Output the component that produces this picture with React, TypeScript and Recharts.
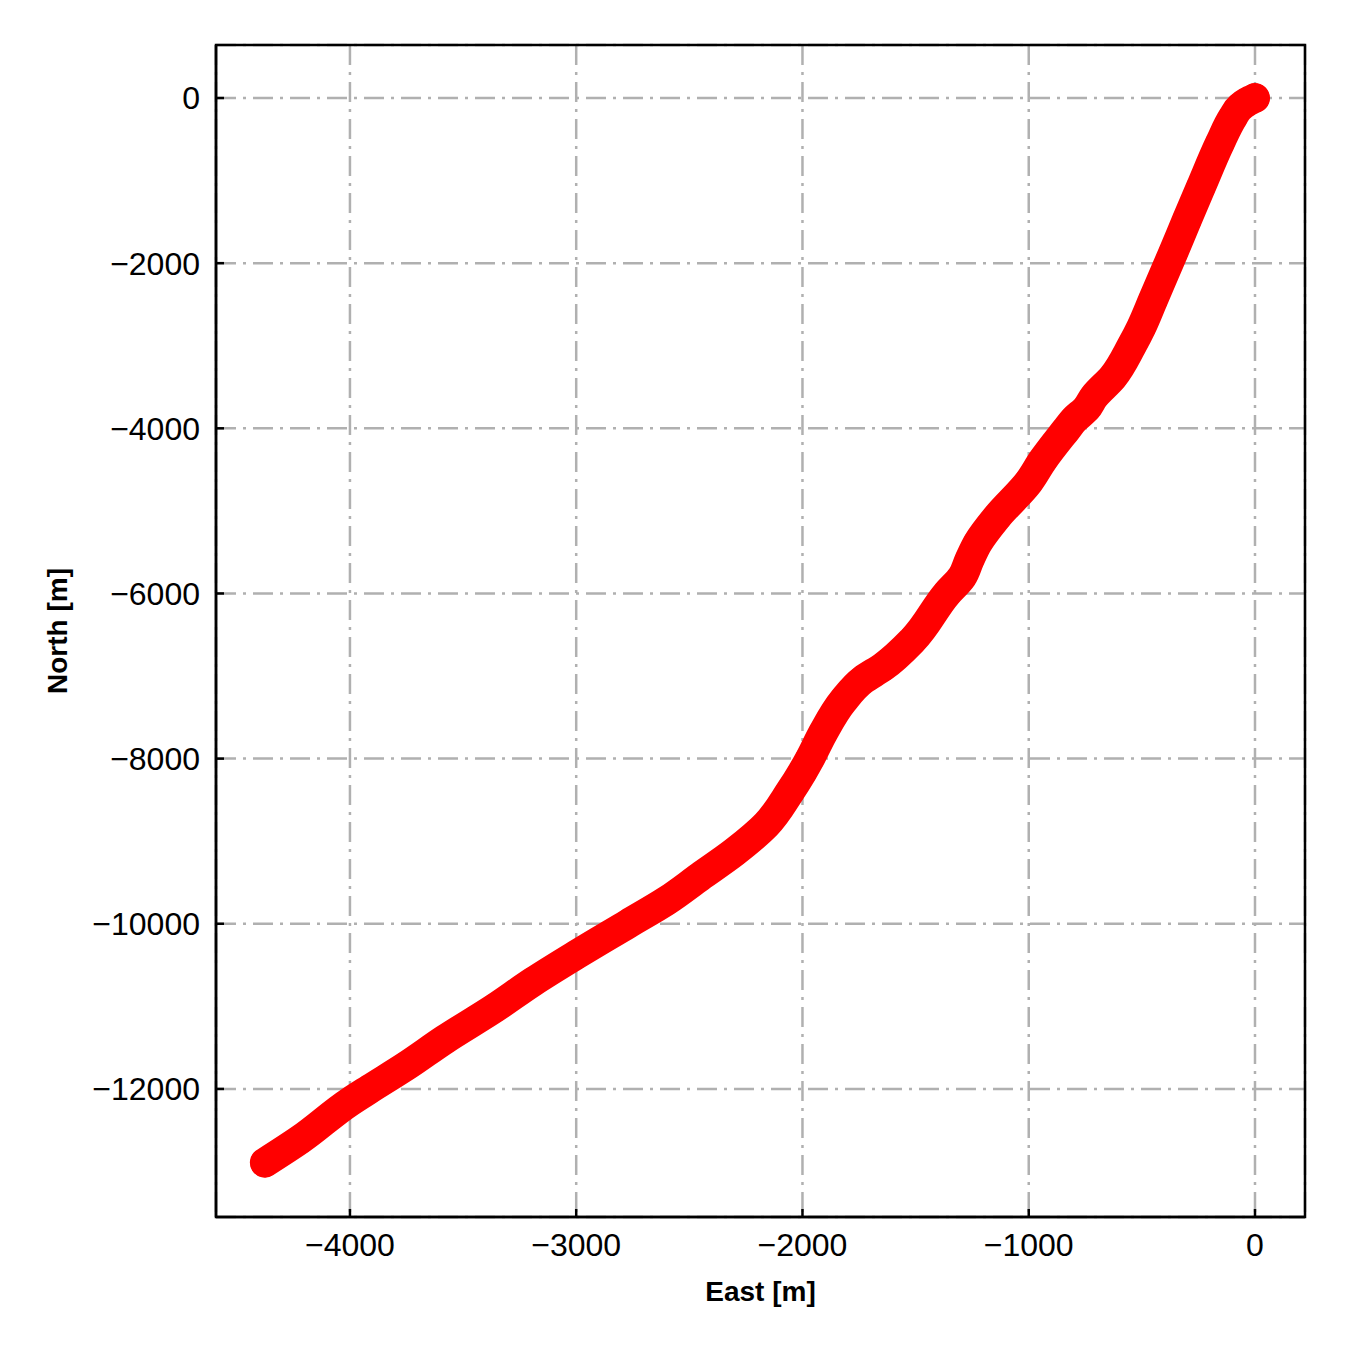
import React from 'react';
import { ScatterChart, Scatter, XAxis, YAxis, CartesianGrid, ReferenceArea } from 'recharts';

// well track (metres)
const eastM = [
  0, -35, -66, -97, -155, -239, -301, -362, -451, -502, -545, -628, -712, -745, -800,
  -835, -937, -1000, -1140, -1225, -1262, -1295, -1361, -1512, -1644, -1733, -1820,
  -1909, -1967, -2000, -2055, -2160, -2300, -2453, -2600, -2771, -3000, -3190, -3360,
  -3580, -3750, -3912, -4000, -4221, -4376,
];
const northM = [
  0, -48, -109, -230, -545, -1077, -1477, -1877, -2446, -2772, -3000, -3378, -3620, -3760, -3898,
  -4019, -4383, -4650, -5073, -5387, -5593, -5799, -6000, -6562, -6889, -7046, -7300,
  -7688, -8000, -8160, -8400, -8800, -9130, -9430, -9720, -10000, -10375, -10700, -11020,
  -11400, -11720, -12000, -12155, -12615, -12893,
];

const eastTicks = [-4000, -3000, -2000, -1000, 0];
const northTicks = [0, -2000, -4000, -6000, -8000, -10000, -12000];
const eastDomain = [-4592, 221];
const northDomain = [-13551, 642];

const track = eastM.map((e, i) => ({ east: e, north: northM[i] }));

const FONT = '"Liberation Sans", Arial, sans-serif';
const fmt = (v: number) => String(v).replace('-', '\u2212');

function Marker(props: any) {
  const { cx, cy } = props;
  return <circle cx={cx} cy={cy} r={14.5} fill="#ff0000" />;
}

const tickStyle = { fontSize: 32, fill: '#000', fontFamily: FONT };
const spine = { stroke: '#000', strokeWidth: 2.5 };

export default function App() {
  return (
    <div style={{ position: 'absolute', left: 0, top: 0, width: 1350, height: 1350, background: '#fff' }}>
      <ScatterChart width={1350} height={1350} margin={{ top: 45, right: 45, bottom: 73, left: 116 }}>
        <CartesianGrid stroke="#b0b0b0" strokeWidth={2.5} strokeDasharray="20 7 3 7" />
        <XAxis
          type="number"
          dataKey="east"
          domain={eastDomain}
          ticks={eastTicks}
          allowDataOverflow
          height={60}
          tickSize={-8}
          tickMargin={24}
          tickFormatter={fmt}
          tick={tickStyle}
          axisLine={spine}
          tickLine={spine}
          label={{
            content: ({ viewBox }: any) => (
              <text
                x={viewBox.x + viewBox.width / 2}
                y={viewBox.y + 74}
                textAnchor="middle"
                dominantBaseline="central"
                fontFamily={FONT}
                fontWeight="bold"
                fontSize={28}
                fill="#000"
              >
                East [m]
              </text>
            ),
          }}
        />
        <YAxis
          type="number"
          dataKey="north"
          domain={northDomain}
          ticks={northTicks}
          allowDataOverflow
          width={100}
          tickSize={-8}
          tickMargin={24}
          tickFormatter={fmt}
          tick={tickStyle}
          axisLine={spine}
          tickLine={spine}
          label={{
            content: ({ viewBox }: any) => {
              const cx = viewBox.x - 59;
              const cy = viewBox.y + viewBox.height / 2;
              return (
                <text
                  x={cx}
                  y={cy}
                  transform={`rotate(-90 ${cx} ${cy})`}
                  textAnchor="middle"
                  dominantBaseline="central"
                  fontFamily={FONT}
                  fontWeight="bold"
                  fontSize={28}
                  fill="#000"
                >
                  North [m]
                </text>
              );
            },
          }}
        />
        <Scatter
          data={track}
          fill="#ff0000"
          shape={<Marker />}
          line={{ stroke: '#ff0000', strokeWidth: 30, strokeLinejoin: 'round', strokeLinecap: 'round' }}
          lineJointType="monotoneY"
          isAnimationActive={false}
        />
        <ReferenceArea
          x1={eastDomain[0]}
          x2={eastDomain[1]}
          y1={northDomain[0]}
          y2={northDomain[1]}
          fill="none"
          fillOpacity={0}
          stroke="#000"
          strokeWidth={2.5}
          ifOverflow="visible"
        />
      </ScatterChart>
    </div>
  );
}
